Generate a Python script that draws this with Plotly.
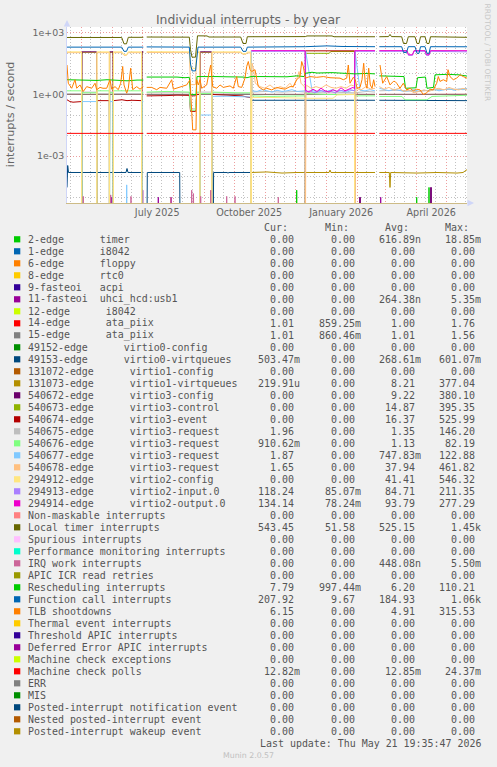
import plotly.graph_objects as go
import pandas as pd

END = pd.Timestamp("2026-05-21 19:35:47")
START = END - pd.Timedelta(days=400)
ZERO_FLOOR = 1e-9  # zero cannot sit on a log axis: draw it below the visible range

# ---------------- series data (days after START, values; None = no data) ----------------
timer2_days = [0, 14.0, 14.7, 15.4, 229.0, 229.7, 230.4, 349.0, 349.7, 350.4, 361.3, 362.0, 362.7, 400]
timer2_vals = [0, 0, 6.6e-5, 0, 0, 2.2e-5, 0, 0, 1e-5, 0, 0, 3e-5, 0, 0]

flat_days = [0, 400]
flat_zero = [0, 0]

uhci_days = [0, 44.0, 44.7, 45.4, 75.0, 75.7, 76.4, 90.6, 91.3, 92.0, 103.3, 104.0, 104.7, 292.3, 293.0, 293.7,
             313.0, 313.7, 314.4, 363.3, 364.0, 364.7, 400]
uhci_vals = [0, 0, 1e-5, 0, 0, 2.2e-5, 0, 0, 1e-5, 0, 0, 1e-5, 0, 0, 1e-5, 0, 0, 1e-5, 0, 0, 3e-5, 0, 0]

ata14_days = [0, 76.3, 77.0, 79.7, 123.5, 124.5, 128.5, 129.7, 308, 309, 312.3, 400]
ata14_vals = [1.0, 1.0, None, 1.0, 1.0, 0.86, 0.86, 1.0, 1.0, None, 1.0, 1.01]
ata15_days = [0, 76.3, 77.0, 79.7, 123.5, 124.5, 128.5, 129.7, 308, 309, 312.3, 400]
ata15_vals = [1.01, 1.01, None, 1.0, 1.0, 0.87, 0.87, 1.0, 1.01, None, 1.01, 1.01]

v0vq_days = [0, 0.7, 1.5, 59.0, 60.0, 61.0, 76.3, 77.0, 79.7, 80.3, 112.7, 113.3, 146.0, 146.6, 160, 161, 162,
             183.5, 184.2, 308.0, 309.0, 312.3, 400]
v0vq_vals = [3e-5, 3.5e-4, 1.6e-4, 1.6e-4, 2.5e-4, 1.6e-4, 1.6e-4, None, 0, 1.6e-4, 1.6e-4, 0, 0, 1.6e-4, 1.6e-4,
             1.5e-4, 1.6e-4, 1.6e-4, 0.52, 0.52, None, 0.52, 0.50]

v1vq_days = [0, 14.5, 14.9, 29.5, 29.9, 42.3, 42.7, 46.1, 46.5, 74.5, 74.9, 76.3, 77.0, 79.7, 132.8, 133.2, 144.5,
             144.9, 183.8, 184.5, 200, 215, 230, 262, 263, 264, 290, 308, 309, 312.3, 322.3, 323.0, 323.7, 350, 370,
             390, 396, 400]
v1vq_vals = [0, 0, 112, 112, 0, 0, 112, 112, 0, 0, 112, 112, None, 0, 0, 112, 112, 0, 0, 1.6e-4, 1.7e-4, 1.5e-4,
             1.6e-4, 1.6e-4, 2.1e-4, 1.6e-4, 1.6e-4, 1.6e-4, None, 1.6e-4, 1.6e-4, 3e-5, 1.6e-4, 1.5e-4, 1.6e-4,
             1.5e-4, 1.6e-4, 2.2e-4]

v3cfg_days = [0, 14.5, 14.9, 29.5, 29.9, 42.3, 42.7, 46.1, 46.5, 74.5, 74.9, 76.3, 77.0, 79.7, 132.8, 133.2, 144.5,
              144.9, 292.3, 293.0, 293.7, 363.3, 364.0, 364.7, 400]
v3cfg_vals = [0, 0, 118, 118, 0, 0, 118, 118, 0, 0, 118, 118, None, 0, 0, 118, 118, 0, 0, 1e-5, 0, 0, 3e-5, 0, 0]

v3ctl_days = [0, 238.1, 238.5, 262, 264, 287.5, 287.9, 400]
v3ctl_vals = [0, 0, 100, 100, 122, 122, 0, 0]

v3evt_days = [0, 3, 6, 10, 14.5, 14.9, 29.5, 29.9, 36, 42.3, 42.7, 46.1, 46.5, 55, 60, 65, 74.5, 74.9, 76.3, 77.0,
              79.7, 90, 100, 110, 122.3, 123.5, 128.5, 129.7, 132.8, 133.2, 144.5, 144.9, 155, 165, 175, 180, 183.8,
              184.2, 238.1, 238.5, 287.5, 287.9, 400]
v3evt_vals = [0.55, 0.45, 0.42, 0.45, 0.45, 0, 0, 0.5, 0.48, 0.5, 0, 0, 0.5, 0.55, 0.5, 0.52, 0.5, 0, 0, None,
              0.85, 0.9, 0.88, 0.92, 0.9, 0.15, 0.15, 1.0, 1.0, 0, 0, 1.0, 0.95, 0.9, 0.85, 0.75, 0.7, 0, 0, 132,
              132, 0, 0]

v3reqa_days = [0, 14.5, 14.7, 14.9, 29.5, 29.7, 29.9, 42.3, 42.5, 42.7, 46.1, 46.3, 46.5, 74.5, 74.7, 74.9, 76.3,
               77.0, 79.7, 122.3, 123.5, 128.5, 129.7, 132.8, 133.0, 133.2, 144.5, 144.7, 144.9, 183.8, 184.0, 184.4,
               184.8, 200, 215, 230, 238.1, 240, 260, 287.7, 300, 308, 309, 312.3, 330, 350, 370, 390, 400]
v3reqa_vals = [1.1, 1.1, 0, 1.3, 1.3, 0, 1.1, 1.1, 0, 1.3, 1.3, 0, 1.1, 1.1, 0, 1.3, 1.3, None, 1.2, 1.2, 0.2, 0.2,
               1.2, 1.2, 0, 1.3, 1.3, 0, 1.2, 1.1, 0, 140, 1.3, 1.4, 1.3, 1.4, 1.3, 1.2, 1.3, 1.2, 1.4, 1.3, None,
               1.5, 1.6, 1.4, 1.7, 1.8, 1.96]

v3reqb_days = [0, 14.5, 14.7, 14.9, 29.5, 29.7, 29.9, 42.3, 42.5, 42.7, 46.1, 46.3, 46.5, 74.5, 74.7, 74.9, 76.3,
               77.0, 79.7, 100, 122.3, 123.5, 128.5, 129.7, 132.8, 133.0, 133.2, 144.5, 144.7, 144.9, 170, 183.8,
               184.0, 184.4, 184.8, 200, 220, 238.1, 238.5, 260, 287.7, 288.3, 308, 309, 312.3, 335, 338, 360, 365,
               400]
v3reqb_vals = [1.5, 1.5, 0, 1.2, 1.2, 0, 1.5, 1.5, 0, 1.2, 1.2, 0, 1.5, 1.5, 0, 1.2, 1.2, None, 1.3, 1.4, 1.3, 0.17,
               0.17, 1.3, 1.3, 0, 1.1, 1.1, 0, 1.3, 1.2, 1.2, 0, 80, 0.85, 0.8, 0.85, 0.85, 1.1, 1.0, 1.0, 0.85,
               0.85, None, 0.8, 0.8, 0.55, 0.55, 0.8, 0.91]

v3reqc_days = [0, 14.5, 14.7, 14.9, 29.5, 29.7, 29.9, 42.3, 42.5, 42.7, 46.1, 46.3, 46.5, 59.0, 59.7, 60.4, 74.5,
               74.7, 74.9, 76.3, 77.0, 79.7, 132.8, 133.0, 133.2, 144.5, 144.7, 144.9, 160, 175, 183.8, 184.0, 184.4,
               184.8, 190, 195, 200, 205, 210, 215, 220, 225, 230, 235, 238.1, 238.3, 238.7, 245, 250, 255, 260,
               265, 270, 275, 280, 285, 287.5, 287.7, 288.1, 293, 298, 303, 308, 309, 312.3, 317, 322, 327, 332,
               337, 342, 347, 352, 357, 362, 367, 372, 377, 382, 387, 392, 396, 400]
v3reqc_vals = [0, 0, 0, 0.45, 0.45, 0, 0, 0, 0, 0.45, 0.45, 0, 0, 0, 4e-5, 0, 0, 0, 0.45, 0.45, None, 0, 0, 0,
               0.1, 0.1, 0, 0.8, 0.82, 0.78, 0.75, 0, 120, 1.5, 1.4, 1.7, 1.5, 1.3, 1.6, 1.4, 1.5, 1.7, 1.4, 1.5,
               1.5, 0, 120, 1.6, 1.3, 1.5, 1.4, 1.7, 1.4, 1.5, 1.3, 1.6, 1.5, 0, 120, 1.6, 1.5, 1.7, 1.5, None,
               2.0, 1.7, 1.5, 1.8, 1.6, 1.4, 1.5, 1.7, 1.4, 1.6, 1.5, 1.8, 1.5, 1.7, 1.9, 1.6, 1.8, 1.7, 1.87]

v3reqd_days = [0, 14.5, 14.7, 29.7, 29.9, 42.3, 42.5, 46.3, 46.5, 54.7, 57, 59.5, 61.3, 74.5, 74.7, 76.3, 77.0,
               79.7, 122.3, 123.5, 128.5, 129.7, 132.8, 133.0, 144.7, 144.9, 173.7, 176, 179, 180.3, 183.8, 184.0,
               185.0, 186.7, 188.3, 193, 198, 203, 208, 213, 218, 223, 226, 230, 232, 234, 238.1, 238.3, 239, 244,
               249, 254, 259, 264, 269, 274, 279, 284, 287.5, 287.7, 289, 294, 299, 304, 308, 309, 312.3, 317, 322,
               327, 332, 337, 342, 347, 352, 357, 362, 367, 372, 377, 382, 387, 392, 396, 400]
v3reqd_vals = [108, 108, 0, 0, 108, 108, 0, 0, 108, 108, 80, 80, 108, 108, 0, 0, None, 110, 108, 3, 3, 110, 108, 0,
               0, 108, 108, 90, 90, 105, 105, 0, 33, 16, 3.5, 2.4, 2.0, 2.9, 1.8, 2.4, 2.0, 3.5, 2.2, 6.2, 13, 3.5,
               2.2, 0, 2.9, 2.0, 2.4, 2.0, 2.9, 2.2, 2.0, 2.4, 2.0, 2.9, 2.5, 0, 2.0, 1.66, 2.4, 1.8, 2.0, None,
               2.4, 1.8, 2.2, 1.66, 2.0, 1.4, 1.66, 1.2, 1.4, 1.66, 1.4, 1.8, 2.0, 1.66, 2.2, 1.8, 1.66, 2.0, 1.65]

v2cfg_days = [0, 14.5, 14.7, 29.7, 29.9, 42.3, 42.5, 46.3, 46.5, 54.7, 57, 59.5, 61.3, 74.5, 74.7, 76.3, 77.0, 79.7,
              122.3, 123.5, 128.5, 129.7, 132.8, 133.0, 144.7, 144.9, 173.7, 176, 179, 180.3, 183.8, 184.0, 184.5,
              200, 220, 238.1, 240, 266, 270, 287.5, 287.7, 400]
v2cfg_vals = [118, 118, 0, 0, 118, 118, 0, 0, 118, 118, 85, 85, 118, 118, 0, 0, None, 120, 118, 20, 18, 120, 118, 0,
              0, 118, 118, 95, 95, 115, 115, 0, 0.7, 0.72, 0.68, 0.7, 0.65, 0.65, 0.95, 1.0, 0, 0]

v2in_days = [184.5, 238.1, 238.5, 243, 248, 253, 258, 263, 268, 273, 278, 283, 287.5, 287.9, 308, 309, 312.3, 340,
             341.5, 345.5, 347, 358, 359.5, 362, 363.5, 400]
v2in_vals = [125, 125, 1.3, 1.5, 1.2, 1.6, 1.3, 1.5, 1.2, 1.6, 1.4, 1.7, 1.5, 125, 125, None, 125, 125, 80, 80, 125,
             125, 80, 80, 125, 118]

v2out_days = [184.5, 238.1, 238.5, 242, 246, 250, 254, 258, 262, 266, 270, 274, 278, 282, 286, 287.5, 287.9, 308,
              309, 312.3, 340, 341.5, 345.5, 347, 358, 359.5, 362, 363.5, 400]
v2out_vals = [135, 135, 1.6, 1.3, 1.8, 1.4, 2.0, 1.5, 1.3, 1.7, 1.4, 2.1, 1.5, 1.8, 2.2, 1.9, 135, 135, None, 135,
              135, 85, 85, 135, 135, 85, 85, 135, 134]

loc_days = [0, 54.7, 57, 59.5, 61.3, 76.3, 77.0, 79.7, 122.3, 123.5, 125, 128.5, 129.7, 130.5, 140, 142, 173.7, 176,
            179, 180.3, 238.3, 240, 265, 267, 308, 309, 312.3, 321.5, 323, 324.5, 334.7, 336.5, 339.5, 341.3, 348,
            350, 352, 353.5, 358, 360, 362, 363.5, 400]
loc_vals = [590, 590, 290, 290, 600, 600, None, 620, 610, 150, 65, 65, 300, 710, 700, 620, 620, 300, 300, 640, 650,
            700, 700, 640, 640, None, 640, 650, 830, 650, 640, 300, 300, 640, 640, 300, 300, 640, 640, 300, 300,
            640, 600]

irqw_days = [0, 15.6, 16.3, 17.0, 43.0, 43.7, 44.4, 63.3, 64.0, 64.7, 103.0, 103.7, 104.4, 124.0, 124.7, 125.6,
             126.5, 127.2, 133.0, 133.7, 134.4, 143.0, 143.7, 144.4, 159.0, 159.7, 160.4, 167.3, 168.0, 168.7, 210.6,
             211.3, 212.0, 400]
irqw_vals = [0, 0, 1.1e-5, 0, 0, 1.3e-5, 0, 0, 1.1e-5, 0, 0, 1e-5, 0, 0, 2.2e-5, 0, 1.5e-5, 0, 0, 1.1e-5, 0, 0,
             2.2e-5, 0, 0, 1.1e-5, 0, 0, 1.1e-5, 0, 0, 1e-5, 0, 0]

resched_days = [0, 10, 20, 30, 40, 50, 60, 70, 76.3, 77.0, 79.7, 90, 100, 110, 118, 122.3, 123.5, 129, 130, 140,
                150, 160, 170, 176, 180, 184, 195, 210, 220, 230, 237, 238.5, 245, 250, 265, 280, 288, 300, 308, 309,
                312.3, 325, 337, 338.5, 349, 350.5, 358.5, 360, 366.5, 368, 380, 392, 400]
resched_vals = [5.2, 5.0, 5.2, 4.8, 5.2, 5.0, 4.6, 5.0, 5.0, None, 7.0, 7.2, 6.9, 7.0, 6.5, 6.8, 1.0, 1.0, 7.4, 7.6,
                7.4, 7.2, 7.4, 7.0, 6.5, 7.4, 7.4, 7.6, 7.2, 8.0, 7.4, 10.7, 12, 11, 11.5, 10.5, 10, 10.5, 10, None,
                8, 7.6, 7.4, 2.0, 2.1, 6.5, 7.0, 2.0, 2.2, 9, 9.5, 9, 7.8]

fcall_days = [0, 54.7, 57, 59.5, 61.3, 76.3, 77.0, 79.7, 122.3, 123.5, 125, 128.5, 129.7, 131, 173.7, 176, 179,
              180.3, 238.3, 260, 275, 308, 309, 312.3, 334.7, 336.5, 339.5, 341.3, 348, 350, 352, 353.5, 358, 360,
              362, 363.5, 400]
fcall_vals = [200, 200, 125, 125, 200, 200, None, 205, 200, 30, 14, 14, 40, 200, 200, 125, 125, 200, 210, 230, 215,
              210, None, 210, 210, 110, 110, 210, 210, 100, 100, 210, 210, 100, 100, 210, 208]

tlb_days = [0, 1.3, 4.7, 8, 9.7, 13, 16.3, 19.7, 24.7, 28,
            29.7, 33, 36, 39.7, 43, 44.7, 48, 51.3, 53.7, 55.7,
            57, 59.7, 61.3, 63.7, 65.7, 69.7, 73, 76.3, 77.0, 79.7,
            84.7, 89.7, 93, 99.7, 104.7, 106.3, 113, 119.7, 123, 124.7,
            125.7, 129, 129.7, 131.3, 133, 134.7, 139.7, 142.3, 143.7, 145.7,
            149.7, 153, 156.3, 163, 166.3, 169.7, 171.3, 174.7, 178, 179.7,
            181.3, 183, 184.7, 188, 191.3, 196.3, 199.7, 204.7, 209.7, 213,
            218, 223, 226.3, 229.7, 233, 234.7, 236.3, 238.3, 243, 249.7,
            256.3, 263, 269.7, 273, 276.3, 279.7, 281.3, 283, 286.3, 288.3,
            290, 293, 295, 296.7, 298.3, 300, 301.7, 303.3, 305, 306.7,
            308, 309, 313, 315.7, 319.7, 323, 326.3, 328, 329.7, 333,
            336.3, 339.7, 343, 346.3, 349.7, 353, 356.3, 359.7, 363, 366.3,
            369.7, 371.3, 373, 376.3, 379.7, 381, 383, 386.3, 389.7, 393,
            396.3, 400]
tlb_vals = [27, 3.5, 2.0, 5.2, 2.0, 2.9, 1.4, 2.4, 2.0, 3.5,
            1.7, 2.2, 2.0, 2.0, 5.2, 1.8, 2.4, 1.7, 3.5, 23,
            2.9, 1.15, 2.0, 19, 1.7, 2.4, 1.8, 2.4, None, 2.2,
            2.2, 1.7, 2.2, 2.0, 5.2, 1.8, 2.2, 2.9, 5.2, 0.17,
            0.019, 0.019, 5.2, 2.9, 5.2, 2.0, 2.9, 13, 27, 2.4,
            2.0, 2.9, 2.2, 2.6, 2.0, 7.4, 2.4, 2.2, 6.2, 23,
            40, 16, 13, 16, 2.4, 1.66, 2.0, 1.66, 2.2, 2.0,
            1.8, 2.4, 2.4, 5.2, 7.4, 40, 23, 6.2, 7.4, 6.8,
            7.4, 6.5, 6.2, 6.2, 5.2, 6.2, 27, 3.5, 6.8, 5.2,
            2.0, 2.2, 5.2, 33, 3.5, 2.0, 19, 2.9, 2.0, 5.2,
            2.4, None, 27, 3.5, 7.4, 2.9, 4.3, 4.3, 3.5, 2.0,
            3.5, 1.66, 2.0, 1.5, 1.8, 1.66, 1.0, 1.2, 1.8, 1.66,
            3.5, 7.4, 4.3, 5.2, 4.3, 16, 7.4, 5.2, 6.2, 9,
            7.4, 6.15]

mcp_days = [0, 76.3, 77.0, 79.7, 308, 309, 312.3, 400]
mcp_vals = [0.0128, 0.0128, None, 0.0128, 0.0128, None, 0.0128, 0.0128]

# ---------------- legend table ----------------
labels = [
    "2-edge      timer", "1-edge      i8042", "6-edge      floppy", "8-edge      rtc0",
    "9-fasteoi   acpi", "11-fasteoi  uhci_hcd:usb1", "12-edge      i8042", "14-edge      ata_piix",
    "15-edge      ata_piix", "49152-edge      virtio0-config", "49153-edge      virtio0-virtqueues",
    "131072-edge      virtio1-config", "131073-edge      virtio1-virtqueues", "540672-edge      virtio3-config",
    "540673-edge      virtio3-control", "540674-edge      virtio3-event", "540675-edge      virtio3-request",
    "540676-edge      virtio3-request", "540677-edge      virtio3-request", "540678-edge      virtio3-request",
    "294912-edge      virtio2-config", "294913-edge      virtio2-input.0", "294914-edge      virtio2-output.0",
    "Non-maskable interrupts", "Local timer interrupts", "Spurious interrupts",
    "Performance monitoring interrupts", "IRQ work interrupts", "APIC ICR read retries",
    "Rescheduling interrupts", "Function call interrupts", "TLB shootdowns", "Thermal event interrupts",
    "Threshold APIC interrupts", "Deferred Error APIC interrupts", "Machine check exceptions",
    "Machine check polls", "ERR", "MIS", "Posted-interrupt notification event",
    "Nested posted-interrupt event", "Posted-interrupt wakeup event",
]
colors = [
    "#00CC00", "#0066B3", "#FF8000", "#FFCC00", "#330099", "#990099", "#CCFF00", "#FF0000", "#808080",
    "#008F00", "#00487D", "#B35A00", "#B38F00", "#6B006B", "#8FB300", "#B30000", "#BEBEBE", "#80FF80",
    "#80C9FF", "#FFC080", "#FFE680", "#AA80FF", "#EE00CC", "#FF8080", "#666600", "#FFBFFF", "#00FFCC",
    "#CC6699", "#999900", "#00CC00", "#0066B3", "#FF8000", "#FFCC00", "#330099", "#990099", "#CCFF00",
    "#FF0000", "#808080", "#008F00", "#00487D", "#B35A00", "#B38F00",
]
cur_text = ["0.00", "0.00", "0.00", "0.00", "0.00", "0.00", "0.00", "1.01", "1.01", "0.00", "503.47m", "0.00",
            "219.91u", "0.00", "0.00", "0.00", "1.96", "910.62m", "1.87", "1.65", "0.00", "118.24", "134.14",
            "0.00", "543.45", "0.00", "0.00", "0.00", "0.00", "7.79", "207.92", "6.15", "0.00", "0.00", "0.00",
            "0.00", "12.82m", "0.00", "0.00", "0.00", "0.00", "0.00"]
min_text = ["0.00", "0.00", "0.00", "0.00", "0.00", "0.00", "0.00", "859.25m", "860.46m", "0.00", "0.00", "0.00",
            "0.00", "0.00", "0.00", "0.00", "0.00", "0.00", "0.00", "0.00", "0.00", "85.07m", "78.24m",
            "0.00", "51.58", "0.00", "0.00", "0.00", "0.00", "997.44m", "9.67", "0.00", "0.00", "0.00", "0.00",
            "0.00", "0.00", "0.00", "0.00", "0.00", "0.00", "0.00"]
avg_text = ["616.89n", "0.00", "0.00", "0.00", "0.00", "264.38n", "0.00", "1.00", "1.01", "0.00", "268.61m", "0.00",
            "8.21", "9.22", "14.87", "16.37", "1.35", "1.13", "747.83m", "37.94", "41.41", "84.71", "93.79",
            "0.00", "525.15", "0.00", "0.00", "448.08n", "0.00", "6.20", "184.93", "4.91", "0.00", "0.00", "0.00",
            "0.00", "12.85m", "0.00", "0.00", "0.00", "0.00", "0.00"]
max_text = ["18.85m", "0.00", "0.00", "0.00", "0.00", "5.35m", "0.00", "1.76", "1.56", "0.00", "601.07m", "0.00",
            "377.04", "380.10", "395.35", "525.99", "146.20", "82.19", "122.88", "461.82", "546.32", "211.35",
            "277.29", "0.00", "1.45k", "0.00", "0.00", "5.50m", "0.00", "110.21", "1.06k", "315.53", "0.00",
            "0.00", "0.00", "0.00", "24.37m", "0.00", "0.00", "0.00", "0.00", "0.00"]

series_days = [timer2_days, flat_days, flat_days, flat_days, flat_days, uhci_days, flat_days, ata14_days,
               ata15_days, flat_days, v0vq_days, flat_days, v1vq_days, v3cfg_days, v3ctl_days, v3evt_days,
               v3reqa_days, v3reqb_days, v3reqc_days, v3reqd_days, v2cfg_days, v2in_days, v2out_days, flat_days,
               loc_days, flat_days, flat_days, irqw_days, flat_days, resched_days, fcall_days, tlb_days,
               flat_days, flat_days, flat_days, flat_days, mcp_days, flat_days, flat_days, flat_days, flat_days,
               flat_days]
series_vals = [timer2_vals, flat_zero, flat_zero, flat_zero, flat_zero, uhci_vals, flat_zero, ata14_vals,
               ata15_vals, flat_zero, v0vq_vals, flat_zero, v1vq_vals, v3cfg_vals, v3ctl_vals, v3evt_vals,
               v3reqa_vals, v3reqb_vals, v3reqc_vals, v3reqd_vals, v2cfg_vals, v2in_vals, v2out_vals, flat_zero,
               loc_vals, flat_zero, flat_zero, irqw_vals, flat_zero, resched_vals, fcall_vals, tlb_vals,
               flat_zero, flat_zero, flat_zero, flat_zero, mcp_vals, flat_zero, flat_zero, flat_zero, flat_zero,
               flat_zero]

month_labels = {(2025, 7): "July 2025", (2025, 10): "October 2025", (2026, 1): "January 2026",
                (2026, 4): "April 2026"}

# ---------------- helpers ----------------
FONT = "DejaVu Sans, Verdana, sans-serif"
MONO = "DejaVu Sans Mono, monospace"
TXT = "#666666"
PX_L, PX_R, PX_T, PX_B = 67, 467, 27, 203


def to_x(days):
    return [START + pd.Timedelta(days=d) for d in days]


def to_y(vals):
    return [None if v is None else (v if v > 0 else ZERO_FLOOR) for v in vals]


def px(x):
    return (x - PX_L) / (PX_R - PX_L)


def py(y):
    return (PX_B - y) / (PX_B - PX_T)


def nb(s):
    return s.replace(" ", "\u00a0")


fig = go.Figure()
for lab, col, d, v in zip(labels, colors, series_days, series_vals):
    assert len(d) == len(v), lab
    fig.add_trace(go.Scatter(x=to_x(d), y=to_y(v), mode="lines", name=lab,
                             line=dict(color=col, width=1), showlegend=False, hoverinfo="skip"))

# x grid: month starts (major), 10th / 20th (minor)
month_starts = pd.date_range("2025-05-01", "2026-05-01", freq="MS")
major_text = [month_labels.get((m.year, m.month), "") for m in month_starts]
minor_vals = []
for m in pd.date_range("2025-04-01", "2026-05-01", freq="MS"):
    for dd in (10, 20):
        t = m + pd.Timedelta(days=dd - 1)
        if START <= t <= END:
            minor_vals.append(t)

MAJ = "rgba(222,79,79,0.55)"
MIN = "rgba(143,143,143,0.55)"

fig.update_layout(
    width=497, height=767, autosize=False,
    margin=dict(l=PX_L, r=497 - PX_R, t=PX_T, b=767 - PX_B, pad=0),
    paper_bgcolor="#F0F0F0", plot_bgcolor="#FFFFFF",
    title=dict(text="Individual interrupts - by year", x=248 / 497, xanchor="center", xref="container",
               y=1 - 19.5 / 767, yanchor="middle", yref="container",
               font=dict(family=FONT, size=12.4, color=TXT)),
    xaxis=dict(type="date", range=[START, END], tickmode="array", tickvals=list(month_starts),
               ticktext=major_text, ticks="", ticklabelshift=15,
               tickfont=dict(family=FONT, size=9.6, color=TXT),
               showgrid=True, gridcolor=MAJ, griddash="1px,2px", gridwidth=1,
               minor=dict(tickvals=minor_vals, showgrid=True, gridcolor=MIN, griddash="1px,2px", gridwidth=1,
                          ticks=""),
               showline=True, linecolor="#CDBB86", linewidth=1, zeroline=False, fixedrange=True),
    yaxis=dict(type="log", range=[-5.28, 3.28], tickmode="array", tickvals=[1e-3, 1, 1e3],
               ticktext=["1e-03", "1e+00", "1e+03"], ticks="",
               tickfont=dict(family=FONT, size=9.4, color=TXT),
               showgrid=True, gridcolor=MAJ, griddash="1px,2px", gridwidth=1,
               minor=dict(tickvals=[1e-5, 1e-4, 1e-2, 1e-1, 10, 100], showgrid=True, gridcolor=MIN,
                          griddash="1px,2px", gridwidth=1, ticks=""),
               showline=True, linecolor="#CFD6F8", linewidth=1, zeroline=False, fixedrange=True),
)

ann = []
shapes = []
# axis title and side credit
ann.append(dict(text="interrupts / second", x=px(10.7), y=py(114.5), xref="paper", yref="paper",
                textangle=-90, showarrow=False, xanchor="center", yanchor="middle",
                font=dict(family=FONT, size=11.2, color=TXT)))
ann.append(dict(text="RRDTOOL / TOBI OETIKER", x=px(487.5), y=py(53), xref="paper", yref="paper",
                textangle=90, showarrow=False, xanchor="center", yanchor="middle",
                font=dict(family=FONT, size=7.6, color="#C8C8C8")))
# axis arrows
ann.append(dict(text="", x=px(474), y=py(203), xref="paper", yref="paper", ax=-8, ay=0, showarrow=True,
                arrowhead=2, arrowsize=1.3, arrowwidth=1, arrowcolor="#CFD6F8"))
ann.append(dict(text="", x=px(67), y=py(20), xref="paper", yref="paper", ax=0, ay=8, showarrow=True,
                arrowhead=2, arrowsize=1.3, arrowwidth=1, arrowcolor="#CFD6F8"))

COL_END = [302.0, 362.7, 422.7, 482.7]
LEG_FONT = dict(family=MONO, size=9.95, color="#555555")
HEAD_Y = 227.3
for name, xe in zip(["Cur:", "Min:", "Avg:", "Max:"], COL_END):
    ann.append(dict(text=nb(name + "  "), x=px(xe), y=py(HEAD_Y), xref="paper", yref="paper",
                    xanchor="right", yanchor="middle", showarrow=False, font=LEG_FONT))

ROW0, ROWH = 239.3, 12.0
for i, lab in enumerate(labels):
    yy = ROW0 + i * ROWH
    shapes.append(dict(type="rect", xref="paper", yref="paper", x0=px(14), x1=px(20.3),
                       y0=py(yy + 3.1), y1=py(yy - 3.1), fillcolor=colors[i], line=dict(width=0)))
    ann.append(dict(text=nb(lab), x=px(26.3), y=py(yy), xref="paper", yref="paper", xanchor="left",
                    yanchor="middle", showarrow=False, font=LEG_FONT))
    for txt, xe in zip([cur_text[i], min_text[i], avg_text[i], max_text[i]], COL_END):
        t = txt if not txt[-1].isdigit() else txt + " "
        ann.append(dict(text=nb(t), x=px(xe), y=py(yy), xref="paper", yref="paper", xanchor="right",
                        yanchor="middle", showarrow=False, font=LEG_FONT))

ann.append(dict(text=nb("Last update: Thu May 21 19:35:47 2026"), x=px(482.7), y=py(743.5), xref="paper",
                yref="paper", xanchor="right", yanchor="middle", showarrow=False, font=LEG_FONT))
ann.append(dict(text="Munin 2.0.57", x=px(248), y=py(755.8), xref="paper", yref="paper", xanchor="center",
                yanchor="middle", showarrow=False, font=dict(family=FONT, size=7.8, color="#C0C0C0")))

fig.update_layout(annotations=ann, shapes=shapes)

fig.write_html("out.html", config={"displayModeBar": False, "staticPlot": True},
               post_script="document.body.style.margin='0';document.body.style.background='#F0F0F0';")
